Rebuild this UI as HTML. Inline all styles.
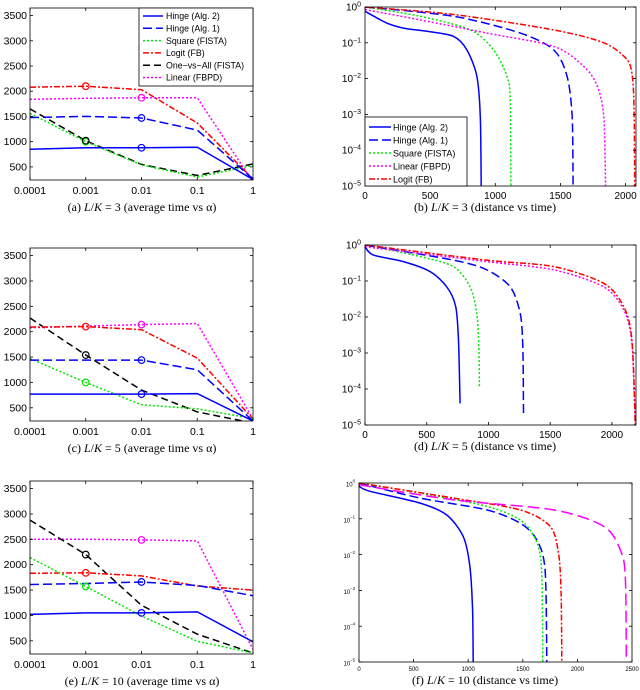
<!DOCTYPE html>
<html><head><meta charset="utf-8"><style>
body{margin:0;background:#fff;width:640px;height:690px;overflow:hidden}
svg{display:block}
text{font-family:"Liberation Sans",sans-serif;fill:#000}
.cap{font-family:"Liberation Serif",serif;font-size:12px}
</style></head><body>
<svg id="fig" width="640" height="690" viewBox="0 0 640 690" xmlns="http://www.w3.org/2000/svg"></svg>
<script>
// ---------- data ----------
const alphaTicks = ['0.0001','0.001','0.01','0.1','1'];
const timeTicks = [500,1000,1500,2000,2500,3000,3500];
// (a) L/K=3
const a_hinge2 = [850,880,880,890,250];
const a_hinge1 = [1480,1500,1470,1230,260];
const a_square = [1560,1000,540,300,530];
const a_logit  = [2080,2100,2030,1370,260];
const a_ova    = [1650,1020,550,330,560];
const a_linear = [1840,1860,1870,1870,200];
// (c) L/K=5
const c_hinge2 = [770,770,770,780,240];
const c_hinge1 = [1440,1440,1440,1250,240];
const c_square = [1470,1000,560,480,290];
const c_logit  = [2090,2100,2040,1480,280];
const c_ova    = [2270,1540,850,420,200];
const c_linear = [2080,2110,2140,2160,280];
// (e) L/K=10
const e_hinge2 = [1020,1050,1050,1070,480];
const e_hinge1 = [1610,1630,1660,1590,1390];
const e_square = [2140,1570,990,490,260];
const e_logit  = [1830,1840,1780,1580,1500];
const e_ova    = [2880,2200,1200,630,260];
const e_linear = [2500,2500,2490,2470,330];
// (b) distance vs time, L/K=3 : time, log10(distance)
const b_hinge2_t = [0,167,295,474,680,782,859,885,892];
const b_hinge2_d = [-0.12,-0.45,-0.59,-0.68,-0.82,-1.2,-1.94,-3.07,-5];
const b_hinge1_t = [0,680,1192,1449,1551,1590,1597];
const b_hinge1_d = [0,-0.26,-0.73,-1.2,-1.94,-3.07,-5];
const b_square_t = [0,423,808,987,1090,1115,1120];
const b_square_d = [0,-0.26,-0.64,-1.2,-1.94,-2.6,-5];
const b_linear_t = [0,423,936,1449,1679,1782,1833,1846];
const b_linear_d = [-0.07,-0.36,-0.73,-1.1,-1.66,-2.2,-3.07,-5];
const b_logit_t  = [0,680,1449,1833,2013,2055,2066,2070];
const b_logit_d  = [0,-0.21,-0.64,-1.0,-1.48,-2.04,-3.07,-5];
// (d) L/K=5
const d_hinge2_t = [0,68,311,527,662,735,757,770];
const d_hinge2_d = [-0.05,-0.28,-0.46,-0.74,-1.16,-1.71,-2.64,-4.4];
const d_square_t = [0,446,716,851,905,922,927];
const d_square_d = [0,-0.32,-0.6,-1.16,-1.9,-2.82,-3.94];
const d_hinge1_t = [0,716,986,1176,1257,1278,1284];
const d_hinge1_d = [0,-0.42,-0.69,-1.16,-1.9,-2.82,-4.68];
const d_logit_t  = [0,986,1527,1932,2095,2162,2189];
const d_logit_d  = [0,-0.42,-0.6,-1.06,-1.71,-2.64,-5];
const d_linear_t = [0,986,1527,1932,2095,2162,2189];
const d_linear_d = [-0.05,-0.46,-0.69,-1.16,-1.8,-2.73,-5];
// (f) L/K=10
const f_hinge2_t = [0,98,557,802,955,1016,1040,1046];
const f_hinge2_d = [-0.09,-0.23,-0.56,-0.89,-1.5,-2.34,-3.55,-5];
const f_hinge1_t = [0,557,1169,1475,1628,1704,1720];
const f_hinge1_d = [0,-0.42,-0.75,-1.12,-1.59,-2.43,-5];
const f_square_t = [0,557,1169,1475,1620,1672,1683];
const f_square_d = [0,-0.28,-0.65,-1.03,-1.59,-2.43,-5];
const f_logit_t  = [0,863,1475,1750,1827,1851,1857];
const f_logit_d  = [0,-0.42,-0.75,-1.21,-1.96,-3.08,-5];
const f_linear_t = [0,863,1781,2240,2393,2439,2448];
const f_linear_d = [-0.05,-0.47,-0.75,-1.21,-1.87,-2.62,-5];

// ---------- styles ----------
const ST = {
  hinge2:{c:'#0000ff',d:''},
  hinge1:{c:'#0000ff',d:'9,4'},
  square:{c:'#00e600',d:'2,2'},
  logit:{c:'#ff0000',d:'6,2,2,2'},
  ova:{c:'#000000',d:'7,4'},
  linear:{c:'#ff00ff',d:'2,2'}
};
const NS='http://www.w3.org/2000/svg';
const svg=document.getElementById('fig');
function mk(tag,attrs,parent){const e=document.createElementNS(NS,tag);for(const k in attrs)e.setAttribute(k,attrs[k]);(parent||svg).appendChild(e);return e;}

let clipId=0;
function frame(P,name){
  const g=mk('g',{});
  
  
  const cid='clip'+(clipId++);
  const cp=mk('clipPath',{id:cid},g);
  mk('rect',{x:P.x0,y:P.y0,width:P.x1-P.x0,height:P.y1-P.y0},cp);
  mk('rect',{x:P.x0,y:P.y0,width:P.x1-P.x0,height:P.y1-P.y0,fill:'#fff',stroke:'none'},g);
  P.g=g;P.clip='url(#'+cid+')';
  return g;
}
function border(P){
  const r=mk('rect',{x:P.x0,y:P.y0,width:P.x1-P.x0,height:P.y1-P.y0,fill:'none',stroke:'#000','stroke-width':0.8},P.g);
  
  
}
function smoothPath(p){
  let d='M'+p[0][0].toFixed(1)+','+p[0][1].toFixed(1);
  for(let i=0;i<p.length-1;i++){
    const p0=p[Math.max(0,i-1)],p1=p[i],p2=p[i+1],p3=p[Math.min(p.length-1,i+2)];
    const k=7;
    const c1=[p1[0]+(p2[0]-p0[0])/k,p1[1]+(p2[1]-p0[1])/k];
    const c2=[p2[0]-(p3[0]-p1[0])/k,p2[1]-(p3[1]-p1[1])/k];
    d+=' C'+c1[0].toFixed(1)+','+c1[1].toFixed(1)+' '+c2[0].toFixed(1)+','+c2[1].toFixed(1)+' '+p2[0].toFixed(1)+','+p2[1].toFixed(1);
  }
  return d;
}
function series(P,xs,ys,key,name,style,smooth){
  const s=style||ST[key];
  let el;
  if(smooth){
    const p=xs.map((x,i)=>[P.sx(x),P.sy(ys[i])]);
    el=mk('path',{d:smoothPath(p),fill:'none',stroke:s.c,'stroke-width':1.5,'stroke-dasharray':s.d,'clip-path':P.clip},P.g);
  } else {
    const pts=xs.map((x,i)=>P.sx(x).toFixed(1)+','+P.sy(ys[i]).toFixed(1)).join(' ');
    el=mk('polyline',{points:pts,fill:'none',stroke:s.c,'stroke-width':1.5,'stroke-dasharray':s.d,'clip-path':P.clip},P.g);
  }
  
  
}
function marker(P,x,y,key,name){
  const c=mk('circle',{cx:P.sx(x),cy:P.sy(y),r:3.3,fill:'none',stroke:ST[key].c,'stroke-width':1.2},P.g);
  
  
}
function caption(x,y,letter,lk,kind){
  const t=mk('text',{x:x,y:y,'class':'cap','text-anchor':'middle'});
  
  
  t.innerHTML='('+letter+') <tspan font-style="italic">L</tspan>/<tspan font-style="italic">K</tspan> = '+lk+' ('+kind+')';
}

// ---------- left panels ----------
function alphaPanel(y0,y1,letter,lk,D,marks){
  const P={x0:30,x1:253,y0:y0,y1:y1,ymin:240,ymax:3650};
  P.sx=i=>P.x0+i*(P.x1-P.x0)/(alphaTicks.length-1);
  P.sy=v=>P.y1-(v-P.ymin)*(P.y1-P.y0)/(P.ymax-P.ymin);
  frame(P,'avg-time-panel-'+letter);
  const idx=alphaTicks.map((_,i)=>i);
  const order=['linear','ova','logit','square','hinge1','hinge2'];
  order.forEach(k=>series(P,idx,D[k],k,'line-'+k));
  marks.forEach(m=>marker(P,m[1],D[m[0]][m[1]],m[0],'marker-'+m[0]));
  timeTicks.forEach(v=>{
    const y=P.sy(v);
    mk('line',{x1:P.x0,x2:P.x0+3,y1:y,y2:y,stroke:'#000','stroke-width':0.8},P.g);
    mk('line',{x1:P.x1,x2:P.x1-3,y1:y,y2:y,stroke:'#000','stroke-width':0.8},P.g);
    const t=mk('text',{x:P.x0-3,y:y+3.5,'text-anchor':'end','font-size':10.5},P.g);
    
    
    t.textContent=v;
  });
  alphaTicks.forEach((l,i)=>{
    const x=P.sx(i);
    mk('line',{x1:x,x2:x,y1:P.y1,y2:P.y1-3,stroke:'#000','stroke-width':0.8},P.g);
    mk('line',{x1:x,x2:x,y1:P.y0,y2:P.y0+3,stroke:'#000','stroke-width':0.8},P.g);
    const t=mk('text',{x:x,y:P.y1+14,'text-anchor':'middle','font-size':10.5},P.g);
    
    
    t.textContent=l;
  });
  border(P);
  caption(142,P.y1+31,letter,lk,'average time vs α');
  return P;
}
const PA=alphaPanel(8,180,'a',3,{hinge2:a_hinge2,hinge1:a_hinge1,square:a_square,logit:a_logit,ova:a_ova,linear:a_linear},
  [['logit',1],['linear',2],['hinge1',2],['hinge2',2],['square',1],['ova',1]]);
const PC=alphaPanel(248,421,'c',5,{hinge2:c_hinge2,hinge1:c_hinge1,square:c_square,logit:c_logit,ova:c_ova,linear:c_linear},
  [['logit',1],['ova',1],['square',1],['linear',2],['hinge1',2],['hinge2',2]]);
const PE=alphaPanel(481,654,'e',10,{hinge2:e_hinge2,hinge1:e_hinge1,square:e_square,logit:e_logit,ova:e_ova,linear:e_linear},
  [['ova',1],['logit',1],['square',1],['linear',2],['hinge1',2],['hinge2',2]]);

// legend for (a)
(function(){
  const g=mk('g',{});
  
  
  mk('rect',{x:139,y:8,width:114,height:78,fill:'#fff',stroke:'#000','stroke-width':0.8},g);
  const items=[['hinge2','Hinge (Alg. 2)'],['hinge1','Hinge (Alg. 1)'],['square','Square (FISTA)'],['logit','Logit (FB)'],['ova','One\u2212vs\u2212All (FISTA)'],['linear','Linear (FBPD)']];
  items.forEach((it,i)=>{
    const y=16+i*12.3;
    const e=mk('g',{},g);
    
    
    mk('line',{x1:143,x2:163,y1:y,y2:y,stroke:ST[it[0]].c,'stroke-width':1.5,'stroke-dasharray':ST[it[0]].d},e);
    const t=mk('text',{x:166,y:y+3.2,'font-size':8.8},e);
    t.textContent=it[1];
  });
})();

// ---------- right panels ----------
function sup(t,exp){t.innerHTML='10<tspan dy="-4" font-size="0.7em">'+exp+'</tspan>';}
function distPanel(x0,x1,y0,y1,xmax,xt,letter,lk,S,fs){
  const P={x0:x0,x1:x1,y0:y0,y1:y1,xmax:xmax};
  P.sx=v=>P.x0+v*(P.x1-P.x0)/P.xmax;
  P.sy=d=>P.y0+(-d)*(P.y1-P.y0)/5;
  frame(P,'distance-panel-'+letter);
  S.forEach(s=>series(P,s[0],s[1],s[2],'curve-'+s[2],s[3],true));
  for(let k=0;k<=5;k++){
    const y=P.sy(-k);
    mk('line',{x1:P.x0,x2:P.x0+3,y1:y,y2:y,stroke:'#000','stroke-width':0.8},P.g);
    mk('line',{x1:P.x1,x2:P.x1-3,y1:y,y2:y,stroke:'#000','stroke-width':0.8},P.g);
    const t=mk('text',{x:P.x0-4,y:y+3.5,'text-anchor':'end','font-size':fs},P.g);
    
    
    sup(t,k==0?'0':'\u2212'+k);
  }
  xt.forEach(v=>{
    const x=P.sx(v);
    mk('line',{x1:x,x2:x,y1:P.y1,y2:P.y1-3,stroke:'#000','stroke-width':0.8},P.g);
    mk('line',{x1:x,x2:x,y1:P.y0,y2:P.y0+3,stroke:'#000','stroke-width':0.8},P.g);
    const t=mk('text',{x:x,y:P.y1+fs+3,'text-anchor':'middle','font-size':fs},P.g);
    
    
    t.textContent=v;
  });
  border(P);
  caption(485,letter=='f'?684:P.y1+25,letter,lk,'distance vs time');
  return P;
}
const PB=distPanel(365,636,7,186,2080,[0,500,1000,1500,2000],'b',3,[
  [b_hinge2_t,b_hinge2_d,'hinge2'],[b_hinge1_t,b_hinge1_d,'hinge1'],[b_square_t,b_square_d,'square'],
  [b_linear_t,b_linear_d,'linear'],[b_logit_t,b_logit_d,'logit']],10);
const PD=distPanel(365,636,245,425,2195,[0,500,1000,1500,2000],'d',5,[
  [d_hinge2_t,d_hinge2_d,'hinge2'],[d_square_t,d_square_d,'square'],[d_hinge1_t,d_hinge1_d,'hinge1'],
  [d_linear_t,d_linear_d,'linear'],[d_logit_t,d_logit_d,'logit']],10);
const PF=distPanel(359,632,483,662,2500,[0,500,1000,1500,2000,2500],'f',10,[
  [f_hinge2_t,f_hinge2_d,'hinge2'],[f_hinge1_t,f_hinge1_d,'hinge1'],[f_square_t,f_square_d,'square'],
  [f_logit_t,f_logit_d,'logit'],[f_linear_t,f_linear_d,'linear',{c:'#ff00ff',d:'12,5'}]],6);

// legend for (b)
(function(){
  const g=mk('g',{});
  
  
  mk('rect',{x:365,y:117,width:102,height:69,fill:'#fff',stroke:'#000','stroke-width':0.8},g);
  const items=[['hinge2','Hinge (Alg. 2)'],['hinge1','Hinge (Alg. 1)'],['square','Square (FISTA)'],['linear','Linear (FBPD)'],['logit','Logit (FB)']];
  items.forEach((it,i)=>{
    const y=127+i*13;
    const e=mk('g',{},g);
    
    
    mk('line',{x1:369,x2:391,y1:y,y2:y,stroke:ST[it[0]].c,'stroke-width':1.5,'stroke-dasharray':ST[it[0]].d},e);
    const t=mk('text',{x:393,y:y+3.3,'font-size':9},e);
    t.textContent=it[1];
  });
})();
</script>
</body></html>
